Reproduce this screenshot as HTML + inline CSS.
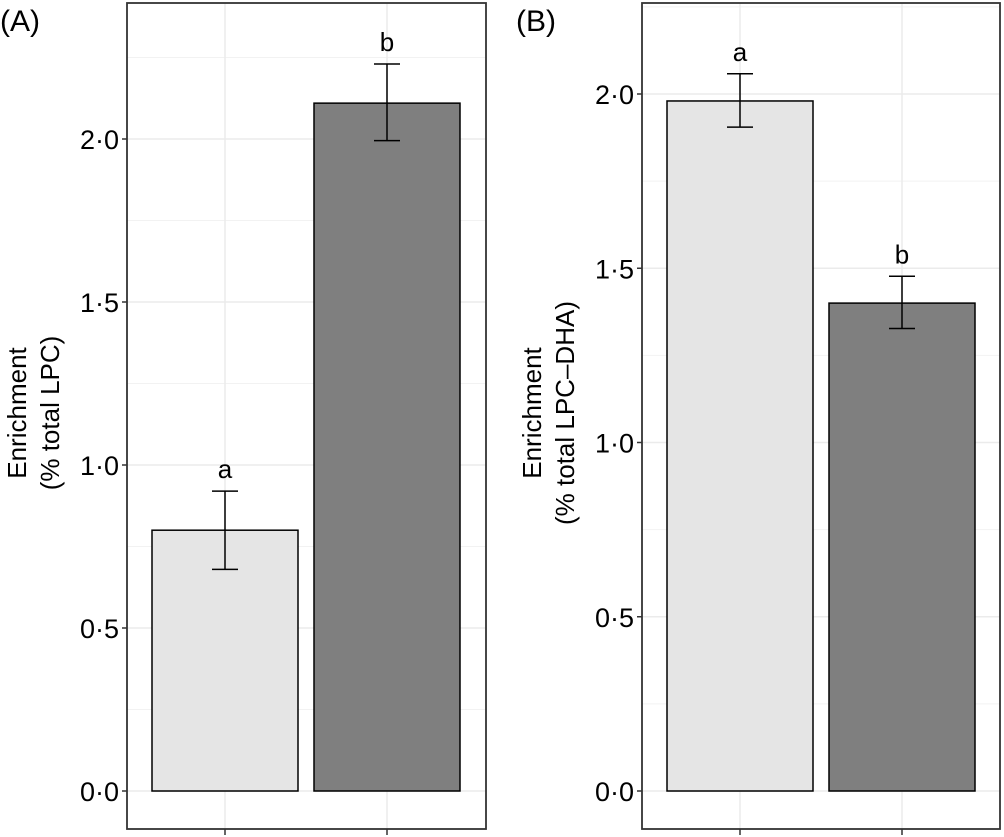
<!DOCTYPE html>
<html><head><meta charset="utf-8">
<style>body{margin:0;background:#fff}svg{display:block;font-family:"Liberation Sans",Arial,sans-serif}</style>
</head><body>
<svg id="chart" width="1004" height="837" viewBox="0 0 1004 837"></svg>
<script>
const categories = ["Group 1", "Group 2"];
const valuesA = [0.80, 2.11];
const errLowA = [0.68, 1.995];
const errHighA = [0.92, 2.23];
const lettersA = ["a", "b"];
const valuesB = [1.98, 1.40];
const errLowB = [1.905, 1.327];
const errHighB = [2.058, 1.477];
const lettersB = ["a", "b"];
const tickValues = [0, 0.5, 1.0, 1.5, 2.0];
const tickLabels = ["0·0", "0·5", "1·0", "1·5", "2·0"];
const fills = ["#e5e5e5", "#7f7f7f"];

const svg = document.getElementById('chart');
const NS = 'http://www.w3.org/2000/svg';
function mk(tag, attrs, parent, text) {
  const e = document.createElementNS(NS, tag);
  for (const k in attrs) e.setAttribute(k, attrs[k]);
  if (text !== undefined) e.textContent = text;
  (parent || svg).appendChild(e);
  return e;
}

function panel(cfg) {
  const g = mk('g', {});
  
  
  const y = v => cfg.y0 - v * cfg.scale;
  const x = i => cfg.left + cfg.bandStart + i * cfg.bandStep;
  for (let v = 0.25; v < 2.5; v += 0.5) {
    if (y(v) > cfg.top) {
      const l = mk('line', {x1: cfg.left, x2: cfg.right, y1: y(v), y2: y(v), stroke: '#f2f2f2', 'stroke-width': 1}, g);
      
      
    }
  }
  tickValues.forEach((v, i) => {
    const l = mk('line', {x1: cfg.left, x2: cfg.right, y1: y(v), y2: y(v), stroke: '#ebebeb', 'stroke-width': 1.5}, g);
    
    
    const t = mk('line', {x1: cfg.left - 5, x2: cfg.left, y1: y(v), y2: y(v), stroke: '#333', 'stroke-width': 1.5}, g);
    
    
    const tx = mk('text', {x: cfg.left - 8, y: y(v) + 10, 'text-anchor': 'end', 'font-size': 27, fill: '#000'}, g, tickLabels[i]);
    
    
  });
  categories.forEach((c, i) => {
    const l = mk('line', {x1: x(i), x2: x(i), y1: cfg.top, y2: cfg.bottom, stroke: '#ebebeb', 'stroke-width': 1.5}, g);
    
    
  });
  categories.forEach((c, i) => {
    const cx = x(i), v = cfg.values[i];
    const b = mk('rect', {x: cx - cfg.barW / 2, y: y(v), width: cfg.barW, height: y(0) - y(v), fill: fills[i], stroke: '#000', 'stroke-width': 1.5}, g);
    
    
    const eg = mk('g', {stroke: '#000', 'stroke-width': 1.5}, g);
    
    
    mk('line', {x1: cx, x2: cx, y1: y(cfg.lo[i]), y2: y(cfg.hi[i])}, eg);
    mk('line', {x1: cx - 13, x2: cx + 13, y1: y(cfg.lo[i]), y2: y(cfg.lo[i])}, eg);
    mk('line', {x1: cx - 13, x2: cx + 13, y1: y(cfg.hi[i]), y2: y(cfg.hi[i])}, eg);
    const t = mk('text', {x: cx, y: y(cfg.hi[i]) - 13, 'text-anchor': 'middle', 'font-size': 26}, g, cfg.letters[i]);
    
    
    const xt = mk('line', {x1: cx, x2: cx, y1: cfg.bottom, y2: cfg.bottom + 6, stroke: '#333', 'stroke-width': 1.5}, g);
    
    
  });
  const f = mk('rect', {x: cfg.left, y: cfg.top, width: cfg.right - cfg.left, height: cfg.bottom - cfg.top, fill: 'none', stroke: '#333', 'stroke-width': 1.8}, g);
  
  
  const tg = mk('text', {'font-size': 26, 'text-anchor': 'middle', transform: `translate(${cfg.titleX},${cfg.titleY}) rotate(-90)`}, g);
  
  
  mk('tspan', {x: 0, y: 0}, tg, 'Enrichment');
  mk('tspan', {x: 0, y: 33}, tg, cfg.title2);
  const lab = mk('text', {x: cfg.labelX, y: 31, 'font-size': 30}, g, cfg.label);
  
  
}

panel({name: 'panel-a', left: 127, right: 486, top: 3, bottom: 829, y0: 791, scale: 326,
  bandStart: 98, bandStep: 162, barW: 146, values: valuesA, lo: errLowA, hi: errHighA, letters: lettersA,
  titleX: 26, titleY: 413, title2: '(% total LPC)', label: '(A)', labelX: 0});
panel({name: 'panel-b', left: 642, right: 1000, top: 3, bottom: 829, y0: 791, scale: 348.5,
  bandStart: 98, bandStep: 162, barW: 146, values: valuesB, lo: errLowB, hi: errHighB, letters: lettersB,
  titleX: 541, titleY: 413, title2: '(% total LPC\u2013DHA)', label: '(B)', labelX: 516});
</script>
</body></html>
